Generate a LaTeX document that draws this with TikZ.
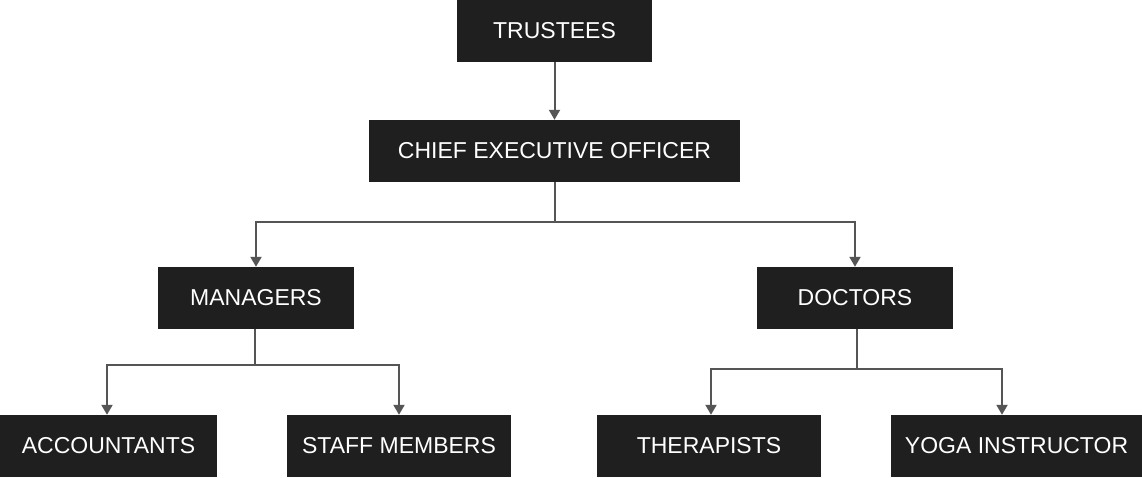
\documentclass[tikz,border=0pt]{standalone}
\usepackage{fontspec}
\setmainfont{Liberation Sans}
\usetikzlibrary{arrows.meta}
\definecolor{boxfill}{HTML}{1F1F1F}
\definecolor{linecol}{HTML}{555555}
\begin{document}
\begin{tikzpicture}[x=1pt,y=-1pt,
  orgbox/.style={fill=boxfill, text=white, inner sep=0pt, minimum height=62pt,
    font=\fontsize{23}{27}\selectfont, anchor=center},
  conn/.style={draw=linecol, line width=2pt},
  arr/.style={conn, -{Triangle[width=11pt,length=10pt]}}]
\useasboundingbox (0,0) rectangle (1142,477);
\fill[white] (0,0) rectangle (1142,477);
\node[orgbox, minimum width=195pt] (tru) at (554.5,31) {TRUSTEES};
\node[orgbox, minimum width=371pt] (ceo) at (554.5,151) {CHIEF EXECUTIVE OFFICER};
\node[orgbox, minimum width=196pt] (mgr) at (256,298) {MANAGERS};
\node[orgbox, minimum width=196pt] (doc) at (855,298) {DOCTORS};
\node[orgbox, minimum width=217pt] (acc) at (108.5,446) {ACCOUNTANTS};
\node[orgbox, minimum width=224pt] (stf) at (399,446) {STAFF MEMBERS};
\node[orgbox, minimum width=224pt] (thr) at (709,446) {THERAPISTS};
\node[orgbox, minimum width=251pt] (yog) at (1016.5,446) {YOGA INSTRUCTOR};
% branch points
\coordinate (cb) at (554.5,222);
\coordinate (mb) at (254.5,365);
\coordinate (db) at (857,369);
% connectors
\draw[arr] (tru.south) -- (ceo.north);
\draw[conn] (ceo.south) -- (cb);
\draw[arr] (cb) -| (mgr.north);
\draw[arr] (cb) -| (doc.north);
\draw[conn] (mgr.south -| mb) -- (mb);
\draw[arr] (mb) -| ([xshift=-1.5pt]acc.north);
\draw[arr] (mb) -| (stf.north);
\draw[conn] (doc.south -| db) -- (db);
\draw[arr] (db) -| ([xshift=2pt]thr.north);
\draw[arr] (db) -| ([xshift=-14.5pt]yog.north);
\end{tikzpicture}
\end{document}
